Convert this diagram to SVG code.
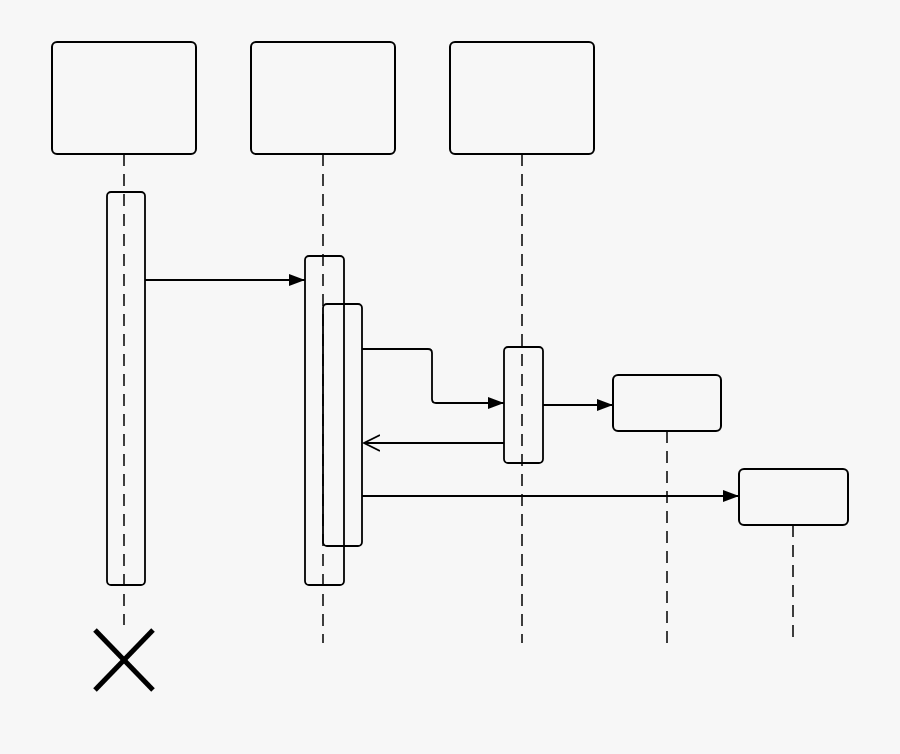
<svg xmlns="http://www.w3.org/2000/svg" width="900" height="754" viewBox="0 0 900 754">
<style>
.box{fill:none;stroke:#000;stroke-width:2}
.act{fill:none;stroke:#000;stroke-width:1.8}
.life{stroke:#000;stroke-width:1.5;stroke-dasharray:12 8;fill:none}
.c{stroke:#000;stroke-width:1.8;fill:none}
</style>
<defs>
<marker id="f" markerWidth="16" markerHeight="12" refX="16" refY="6" orient="auto" markerUnits="userSpaceOnUse"><path d="M0,0L16,6L0,12z" fill="#000"/></marker>
<marker id="o" markerWidth="18" markerHeight="20" refX="16" refY="10" orient="auto" markerUnits="userSpaceOnUse"><path d="M0,2L16,10L0,18" fill="none" stroke="#000" stroke-width="1.8"/></marker>
</defs>
<rect width="900" height="754" fill="#f7f7f7"/>
<g id="lifelines">
<line class="life" x1="124" y1="154" x2="124" y2="625"/>
<line class="life" x1="323" y1="154" x2="323" y2="643"/>
<line class="life" x1="522" y1="154" x2="522" y2="643"/>
<line class="life" x1="667" y1="431" x2="667" y2="643"/>
<line class="life" x1="793" y1="525" x2="793" y2="643"/>
</g>
<g id="obj1"><rect class="box" x="52" y="42" width="144" height="112" rx="5"/></g>
<g id="obj2"><rect class="box" x="251" y="42" width="144" height="112" rx="5"/></g>
<g id="obj3"><rect class="box" x="450" y="42" width="144" height="112" rx="5"/></g>
<g id="obj4"><rect class="box" x="613" y="375" width="108" height="56" rx="5"/></g>
<g id="obj5"><rect class="box" x="739" y="469" width="109" height="56" rx="5"/></g>
<g id="act1"><rect class="act" x="107" y="192" width="38" height="393" rx="4"/></g>
<g id="act2"><rect class="act" x="305" y="256" width="39" height="329" rx="4"/></g>
<g id="act3"><rect class="act" x="323" y="304" width="39" height="242" rx="4"/></g>
<g id="act4"><rect class="act" x="504" y="347" width="39" height="116" rx="4"/></g>
<g id="connectors">
<line class="c" x1="145" y1="280" x2="305" y2="280" marker-end="url(#f)"/>
<path class="c" d="M362,349H428Q432,349 432,353V399Q432,403 436,403H504" marker-end="url(#f)"/>
<line class="c" x1="543" y1="405" x2="613" y2="405" marker-end="url(#f)"/>
<line class="c" x1="504" y1="443" x2="364" y2="443" marker-end="url(#o)"/>
<line class="c" x1="362" y1="496" x2="739" y2="496" marker-end="url(#f)"/>
</g>
<g id="destroy" stroke="#000" stroke-width="5">
<line x1="95" y1="630" x2="153" y2="690"/>
<line x1="153" y1="630" x2="95" y2="690"/>
</g>
</svg>
